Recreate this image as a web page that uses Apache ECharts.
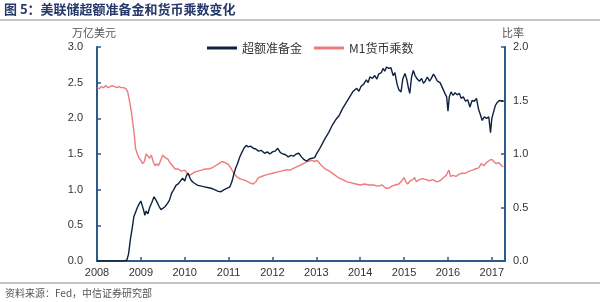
<!DOCTYPE html>
<html><head><meta charset="utf-8">
<script src="https://cdn.jsdelivr.net/npm/echarts@6/dist/echarts.min.js"></script>
<style>html,body{margin:0;padding:0;background:#fff}#c{width:600px;height:302px}</style>
</head><body><div id="c"></div>
<script>
// Excess reserves (trillion USD), decimal-year dates
var erDates = [2008.00,2008.60,2008.68,2008.72,2008.76,2008.80,2008.84,2008.88,2008.92,2008.96,2009.00,2009.03,2009.06,2009.09,2009.12,2009.16,2009.20,2009.25,2009.30,2009.34,2009.38,2009.42,2009.46,2009.50,2009.55,2009.60,2009.65,2009.70,2009.75,2009.80,2009.85,2009.90,2009.95,2010.00,2010.04,2010.08,2010.12,2010.16,2010.22,2010.30,2010.38,2010.45,2010.52,2010.60,2010.68,2010.75,2010.82,2010.90,2010.97,2011.03,2011.08,2011.12,2011.16,2011.20,2011.25,2011.30,2011.35,2011.40,2011.45,2011.50,2011.56,2011.62,2011.68,2011.75,2011.82,2011.88,2011.94,2012.00,2012.06,2012.12,2012.18,2012.24,2012.30,2012.36,2012.42,2012.48,2012.54,2012.60,2012.66,2012.72,2012.78,2012.84,2012.90,2012.96,2013.02,2013.08,2013.14,2013.20,2013.28,2013.36,2013.44,2013.52,2013.60,2013.68,2013.76,2013.84,2013.92,2013.97,2014.02,2014.08,2014.14,2014.18,2014.22,2014.28,2014.33,2014.38,2014.42,2014.48,2014.52,2014.56,2014.60,2014.65,2014.70,2014.75,2014.79,2014.84,2014.88,2014.93,2014.97,2015.02,2015.06,2015.10,2015.13,2015.17,2015.21,2015.25,2015.30,2015.35,2015.40,2015.44,2015.48,2015.53,2015.58,2015.62,2015.67,2015.71,2015.76,2015.82,2015.88,2015.93,2015.97,2016.00,2016.03,2016.07,2016.12,2016.16,2016.21,2016.26,2016.30,2016.35,2016.40,2016.45,2016.50,2016.55,2016.60,2016.65,2016.70,2016.74,2016.78,2016.83,2016.88,2016.93,2016.97,2017.00,2017.04,2017.08,2017.12,2017.17,2017.21,2017.26];
var erValues = [0.00,0.00,0.01,0.10,0.30,0.45,0.62,0.60,0.75,0.80,0.84,0.78,0.72,0.64,0.70,0.66,0.75,0.82,0.90,0.86,0.84,0.76,0.72,0.71,0.76,0.80,0.85,0.95,1.00,1.06,1.08,1.12,1.16,1.12,1.20,1.23,1.16,1.12,1.09,1.06,1.05,1.04,1.03,1.02,1.00,0.98,0.97,1.00,1.02,1.04,1.12,1.22,1.30,1.36,1.45,1.52,1.58,1.62,1.60,1.61,1.58,1.57,1.54,1.55,1.51,1.53,1.50,1.53,1.54,1.58,1.52,1.50,1.49,1.46,1.48,1.47,1.50,1.51,1.46,1.42,1.40,1.43,1.44,1.45,1.52,1.58,1.65,1.72,1.80,1.90,1.98,2.04,2.14,2.22,2.30,2.38,2.42,2.38,2.45,2.48,2.54,2.50,2.58,2.56,2.60,2.55,2.62,2.64,2.70,2.66,2.72,2.70,2.71,2.60,2.64,2.48,2.40,2.37,2.55,2.63,2.55,2.42,2.35,2.58,2.67,2.60,2.55,2.52,2.56,2.49,2.52,2.58,2.52,2.56,2.62,2.58,2.52,2.50,2.42,2.35,2.30,2.10,2.30,2.37,2.32,2.36,2.33,2.35,2.28,2.30,2.24,2.26,2.16,2.25,2.24,2.28,2.12,2.05,1.97,2.02,2.00,2.02,1.80,2.00,2.02,2.18,2.22,2.25,2.24,2.24];
// M1 money multiplier (ratio)
var mmDates = [2008.00,2008.05,2008.10,2008.15,2008.20,2008.25,2008.30,2008.35,2008.40,2008.45,2008.50,2008.55,2008.60,2008.66,2008.70,2008.74,2008.78,2008.82,2008.85,2008.88,2008.92,2008.96,2009.00,2009.04,2009.08,2009.12,2009.16,2009.20,2009.24,2009.28,2009.32,2009.36,2009.40,2009.45,2009.50,2009.54,2009.58,2009.62,2009.66,2009.72,2009.78,2009.85,2009.92,2010.00,2010.05,2010.10,2010.15,2010.22,2010.30,2010.38,2010.46,2010.54,2010.62,2010.70,2010.78,2010.85,2010.92,2011.00,2011.06,2011.12,2011.18,2011.25,2011.32,2011.40,2011.48,2011.56,2011.62,2011.68,2011.75,2011.82,2011.90,2012.00,2012.10,2012.20,2012.30,2012.40,2012.50,2012.60,2012.70,2012.80,2012.90,2012.96,2013.02,2013.10,2013.20,2013.30,2013.40,2013.50,2013.60,2013.70,2013.80,2013.90,2014.00,2014.10,2014.20,2014.30,2014.40,2014.50,2014.58,2014.65,2014.72,2014.80,2014.88,2014.95,2015.00,2015.04,2015.08,2015.14,2015.20,2015.24,2015.28,2015.34,2015.42,2015.50,2015.58,2015.66,2015.74,2015.82,2015.90,2015.96,2016.02,2016.06,2016.12,2016.18,2016.25,2016.32,2016.40,2016.48,2016.56,2016.62,2016.70,2016.76,2016.82,2016.88,2016.94,2017.00,2017.04,2017.10,2017.16,2017.22,2017.26];
var mmValues = [1.62,1.61,1.63,1.62,1.64,1.62,1.63,1.64,1.63,1.62,1.63,1.62,1.62,1.61,1.58,1.50,1.40,1.28,1.18,1.05,1.00,0.96,0.94,0.91,0.93,1.00,0.98,0.96,0.99,0.93,0.89,0.91,0.89,0.94,0.99,0.97,0.98,0.95,0.92,0.89,0.86,0.86,0.84,0.85,0.82,0.80,0.81,0.83,0.84,0.85,0.86,0.86,0.87,0.89,0.91,0.93,0.92,0.90,0.86,0.82,0.79,0.77,0.76,0.75,0.73,0.72,0.74,0.78,0.79,0.80,0.81,0.82,0.83,0.84,0.85,0.85,0.87,0.89,0.91,0.93,0.94,0.93,0.94,0.90,0.86,0.84,0.81,0.78,0.76,0.74,0.73,0.72,0.71,0.72,0.71,0.71,0.70,0.71,0.68,0.68,0.70,0.71,0.72,0.75,0.78,0.74,0.72,0.75,0.76,0.78,0.74,0.76,0.77,0.76,0.75,0.76,0.74,0.75,0.78,0.80,0.85,0.79,0.80,0.79,0.81,0.82,0.82,0.84,0.85,0.86,0.87,0.91,0.89,0.92,0.94,0.95,0.93,0.91,0.92,0.89,0.88];
var xTicks = [2008,2009,2010,2011,2012,2013,2014,2015,2016,2017];
var leftTicks = [0.0,0.5,1.0,1.5,2.0,2.5,3.0];
var rightTicks = [0.0,0.5,1.0,1.5,2.0];
var seriesNames = ['超额准备金','M1货币乘数'];

function zip(a,b){return a.map(function(d,i){return [d,b[i]];});}
var axisColor = '#2c5a8a';
var font = '"Liberation Sans", Arial, sans-serif';
var cjk = '"Noto Sans CJK SC", sans-serif';
var chart = echarts.init(document.getElementById('c'), null, {renderer:'canvas'});
chart.setOption({
  animation:false,
  backgroundColor:'#fff',
  grid:{left:97,right:95,top:47,bottom:41},
  legend:{
    top:37,left:202,itemWidth:30,itemHeight:3,itemGap:12,icon:'rect',
    textStyle:{fontFamily:cjk,fontSize:12,color:'#333'},
    data:seriesNames
  },
  xAxis:{
    type:'value',min:xTicks[0],max:2017.3,interval:1,
    axisLine:{lineStyle:{color:axisColor,width:2}},
    axisTick:{inside:true,length:4,lineStyle:{color:axisColor,width:1.5}},
    axisLabel:{fontFamily:font,fontSize:11,color:'#333',margin:6,showMaxLabel:false,
      formatter:function(v){return xTicks.indexOf(Math.round(v))>=0?String(Math.round(v)):'';}},
    splitLine:{show:false}
  },
  yAxis:[{
    type:'value',min:leftTicks[0],max:leftTicks[leftTicks.length-1],interval:0.5,position:'left',
    axisLine:{show:true,lineStyle:{color:axisColor,width:2}},
    axisTick:{show:true,inside:true,length:4,lineStyle:{color:axisColor,width:1.5}},
    axisLabel:{fontFamily:font,fontSize:11,color:'#333',margin:14,formatter:function(v){return v.toFixed(1);}},
    splitLine:{show:false}
  },{
    type:'value',min:rightTicks[0],max:rightTicks[rightTicks.length-1],interval:0.5,position:'right',
    axisLine:{show:true,lineStyle:{color:axisColor,width:2}},
    axisTick:{show:true,inside:true,length:4,lineStyle:{color:axisColor,width:1.5}},
    axisLabel:{fontFamily:font,fontSize:11,color:'#333',margin:8,formatter:function(v){return v.toFixed(1);}},
    splitLine:{show:false}
  }],
  series:[{
    name:seriesNames[0],type:'line',yAxisIndex:0,showSymbol:false,symbol:'none',
    lineStyle:{color:'#0e2240',width:1.4},itemStyle:{color:'#0e2240'},
    data:zip(erDates,erValues),z:3
  },{
    name:seriesNames[1],type:'line',yAxisIndex:1,showSymbol:false,symbol:'none',
    lineStyle:{color:'#ec7c7c',width:1.4},itemStyle:{color:'#ec7c7c'},
    data:zip(mmDates,mmValues),z:2
  }],
  graphic:[
    {type:'text',left:4,top:3,style:{text:'图 5：美联储超额准备金和货币乘数变化',font:'bold 13px "Noto Sans CJK SC", sans-serif',fill:'#27396b'}},
    {type:'line',shape:{x1:0,y1:20,x2:600,y2:20},style:{stroke:'#8a8a8a',lineWidth:1}},
    {type:'text',left:72,top:27,style:{text:'万亿美元',font:'11px "Noto Sans CJK SC", sans-serif',fill:'#555'}},
    {type:'text',left:502,top:27,style:{text:'比率',font:'11px "Noto Sans CJK SC", sans-serif',fill:'#555'}},
    {type:'line',shape:{x1:0,y1:283,x2:600,y2:283},style:{stroke:'#8a8a8a',lineWidth:1}},
    {type:'text',left:5,top:288,style:{text:'资料来源：Fed，中信证券研究部',font:'10px "Noto Sans CJK SC", sans-serif',fill:'#555'}}
  ]
});
</script></body></html>
